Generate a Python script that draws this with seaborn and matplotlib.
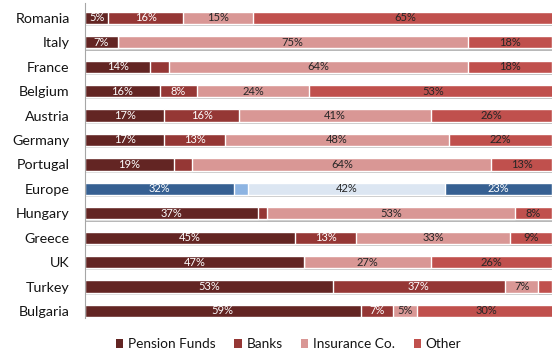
import matplotlib
matplotlib.use("Agg")
import matplotlib.pyplot as plt
import matplotlib.patheffects as pe
from matplotlib.patches import Patch
import seaborn as sns
import pandas as pd

# Share of assets by holder type, per country (percent)
countries = ["Romania", "Italy", "France", "Belgium", "Austria", "Germany", "Portugal",
             "Europe", "Hungary", "Greece", "UK", "Turkey", "Bulgaria"]
pension = [5, 7, 14, 16, 17, 17, 19, 32, 37, 45, 47, 53, 59]
banks = [16, 0, 4, 8, 16, 13, 4, 3, 2, 13, 0, 37, 7]
insurance = [15, 75, 64, 24, 41, 48, 64, 42, 53, 33, 27, 7, 5]
other = [65, 18, 18, 53, 26, 22, 13, 23, 8, 9, 26, 3, 30]

series_names = ["Pension Funds", "Banks", "Insurance Co.", "Other"]
red_colors = ["#632523", "#953735", "#D99795", "#C0504D"]
blue_colors = ["#366092", "#8DB4E2", "#DCE6F2", "#366092"]
highlight = "Europe"

sns.set_theme(style="white")
plt.rcParams["font.family"] = ["Lato", "DejaVu Sans"]

df = pd.DataFrame({"Country": countries, "Pension Funds": pension, "Banks": banks,
                   "Insurance Co.": insurance, "Other": other})
values = df[series_names].to_numpy(dtype=float)
cum = values.cumsum(axis=1)

fig = plt.figure(figsize=(5.52, 3.51), dpi=100)
ax = fig.add_axes([85 / 552, 1 - 318 / 351, 467 / 552, 315 / 351])

# Stack by overdrawing cumulative totals, widest first
for k in range(3, -1, -1):
    pal = {c: (blue_colors[k] if c == highlight else red_colors[k]) for c in countries}
    n0 = len(ax.patches)
    sns.barplot(x=cum[:, k], y=countries, hue=countries, palette=pal, orient="h",
                width=0.5, dodge=False, legend=False, edgecolor="white", linewidth=1,
                saturation=1, ax=ax)
    if k == 3:
        for p in ax.patches[n0:]:
            p.set_path_effects([pe.SimplePatchShadow(offset=(0.8, -1.6), shadow_rgbFace="#7f7f7f",
                                                     alpha=0.55),
                                pe.Normal()])

# Value labels centred in each segment
for i, c in enumerate(countries):
    start = 0.0
    for k in range(4):
        v = values[i, k]
        if v >= 5:
            dark = k < 2 or (c == highlight and k == 3)
            ax.text(start + v / 2, i, f"{v:.0f}%", ha="center", va="center", fontsize=8,
                    color="white" if dark else "#262626")
        start += v

ax.set_xlim(0, 100)
ax.set_ylim(len(countries) - 1 + 0.29, -0.61)
ax.set_xticks([])
ax.set_xlabel("")
ax.set_ylabel("")
for s in ["top", "right", "bottom"]:
    ax.spines[s].set_visible(False)
ax.spines["left"].set_color("#A6A6A6")
ax.spines["left"].set_linewidth(0.8)
ax.tick_params(axis="y", length=0, pad=11, labelsize=10.3, labelcolor="#141414")

handles = [Patch(facecolor=col, edgecolor="none", label=name)
           for name, col in zip(series_names, red_colors)]
fig.legend(handles=handles, loc="lower center", bbox_to_anchor=(0.523, -0.033), ncol=4,
           frameon=False, fontsize=9.8, handlelength=0.55, handleheight=0.55,
           handletextpad=0.35, columnspacing=1.35, labelcolor="#141414")

fig.savefig("out.png", dpi=100)
